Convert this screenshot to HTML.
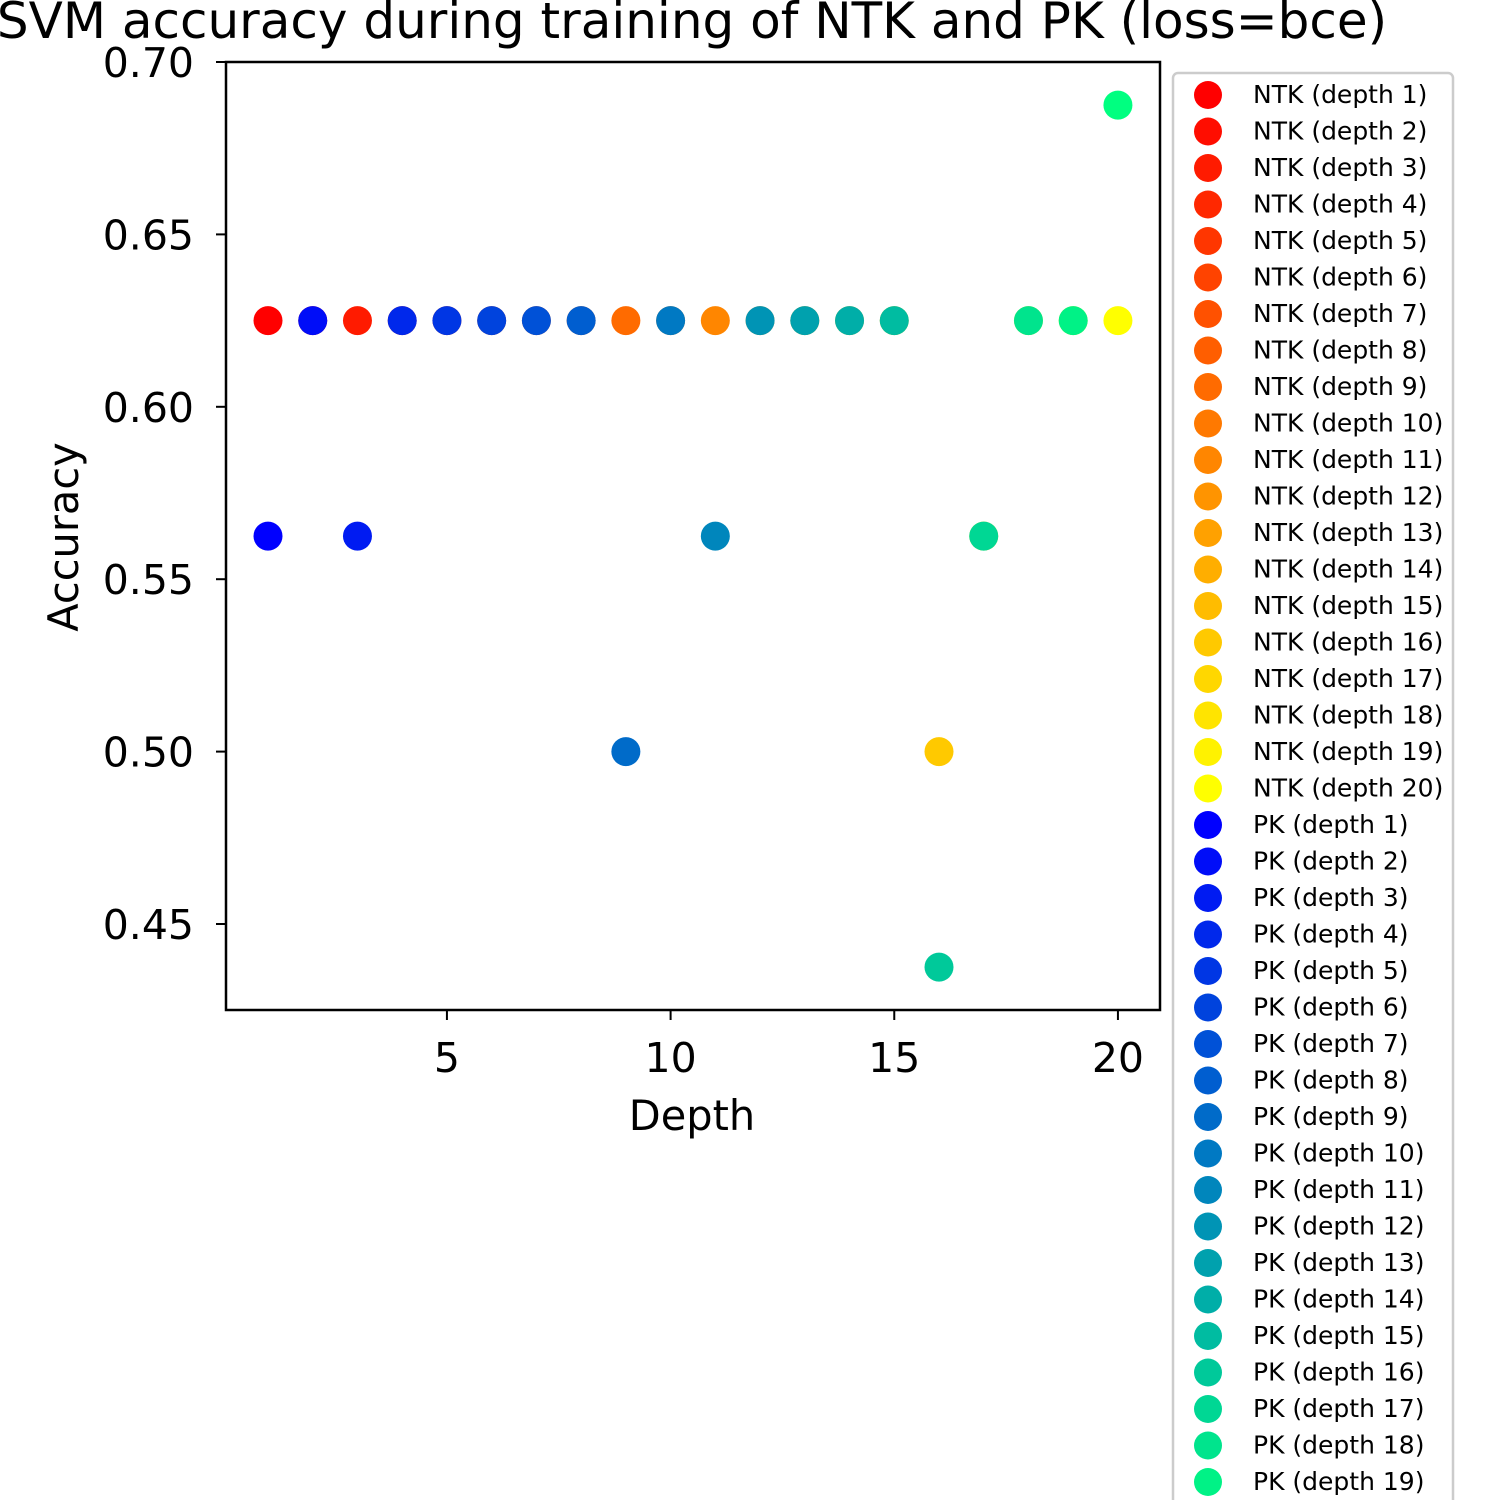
<!DOCTYPE html>
<html><head><meta charset="utf-8"><style>
body{margin:0;background:#fff;}
svg{display:block;font-family:"DejaVu Sans","Liberation Sans",sans-serif;}
</style></head><body>
<svg id="c" width="1500" height="1500" viewBox="0 0 1500 1500">
<rect width="1500" height="1500" fill="#fff"/>
<text x="692" y="38" font-size="50" text-anchor="middle">SVM accuracy during training of NTK and PK (loss=bce)</text>
<g id="plot"></g>
<g id="legend"></g>
<rect x="226" y="62" width="934" height="948" fill="none" stroke="#000" stroke-width="2.5"/>
<text x="692" y="1130" font-size="41.5" text-anchor="middle">Depth</text>
<text transform="translate(78,537) rotate(-90)" font-size="41.5" text-anchor="middle">Accuracy</text>
</svg>
<script>
const depths=[1,2,3,4,5,6,7,8,9,10,11,12,13,14,15,16,17,18,19,20];
const ntkAcc=[0.625,0.625,0.625,0.625,0.625,0.625,0.625,0.625,0.625,0.625,0.625,0.625,0.625,0.625,0.625,0.5,0.5625,0.625,0.625,0.625];
const pkAcc=[0.5625,0.625,0.5625,0.625,0.625,0.625,0.625,0.625,0.5,0.625,0.5625,0.625,0.625,0.625,0.625,0.4375,0.5625,0.625,0.625,0.6875];
const xTicks=[5,10,15,20];
const yTicks=[0.45,0.50,0.55,0.60,0.65,0.70];
const NS="http://www.w3.org/2000/svg";
const xs=v=>268+(v-1)*(671/15);
const ys=v=>62+(0.70-v)*(862/0.25);
function mk(t,a,p){const e=document.createElementNS(NS,t);for(const k in a)e.setAttribute(k,a[k]);p.appendChild(e);return e;}
const plot=document.getElementById('plot'),leg=document.getElementById('legend');
const ntkCol=i=>`rgb(255,${Math.round(255*i/19)},0)`;
const pkCol=i=>`rgb(0,${Math.round(255*i/19)},${Math.round(255*(1-0.5*i/19))})`;
xTicks.forEach(t=>{const x=xs(t);
 const l=mk('line',{x1:x,x2:x,y1:1010,y2:1020,stroke:'#000','stroke-width':2},plot);
 
 
 const tx=mk('text',{x:x,y:1072,'font-size':41,'text-anchor':'middle'},plot);tx.textContent=t;
 
 });
yTicks.forEach(t=>{const y=ys(t);
 const l=mk('line',{x1:216,x2:226,y1:y,y2:y,stroke:'#000','stroke-width':2},plot);
 
 
 const tx=mk('text',{x:194,y:y+15,'font-size':41,'text-anchor':'end'},plot);tx.textContent=t.toFixed(2);
 
 });
depths.forEach((d,i)=>{
 const a=mk('circle',{cx:xs(d),cy:ys(ntkAcc[i]),r:14.5,fill:ntkCol(i)},plot);
 
 
 const b=mk('circle',{cx:xs(d),cy:ys(pkAcc[i]),r:14.5,fill:pkCol(i)},plot);
 
 
});
const box=mk('rect',{x:1173,y:73,width:280,height:1440,rx:5,fill:'#fff',stroke:'#ccc','stroke-width':2.5},leg);


const entries=[];
depths.forEach((d,i)=>entries.push(['NTK (depth '+d+')',ntkCol(i)]));
depths.forEach((d,i)=>entries.push(['PK (depth '+d+')',pkCol(i)]));
entries.forEach((e,k)=>{const y=95+k*36.5;
 const c=mk('circle',{cx:1208,cy:y,r:14,fill:e[1]},leg);
 
 
 const t=mk('text',{x:1253,y:y+8,'font-size':25},leg);t.textContent=e[0];
 
 });
</script>
</body></html>
